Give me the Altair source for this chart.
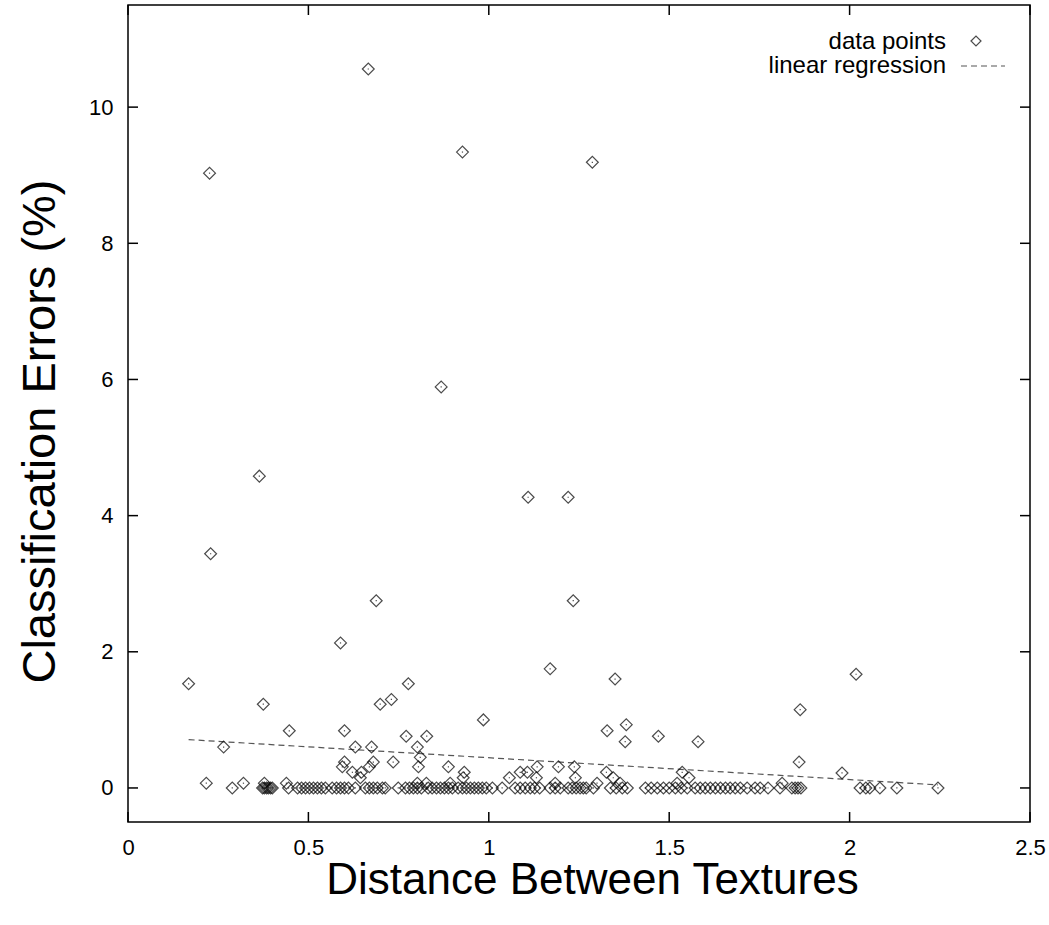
import altair as alt
import pandas as pd

# --- data points (distance, classification error %) ---
pts_x = [
    0.666, 0.226, 0.927, 0.868, 1.287, 0.364, 1.109, 1.220, 0.229, 0.688,
    1.234, 0.589, 1.170, 0.168, 0.777, 1.350, 2.018, 0.375, 0.699, 0.730,
    0.447, 0.600, 0.771, 0.828, 0.265, 0.630, 0.675, 0.802, 0.810, 0.600,
    0.594, 0.680, 0.669, 0.735, 0.805, 0.622, 0.647, 0.644, 0.217, 0.320,
    0.378, 0.439, 0.802, 0.985, 1.328, 1.381, 1.378, 1.470, 1.580, 0.888,
    0.932, 0.929, 0.893, 0.827, 1.057, 1.087, 1.107, 1.134, 1.132, 1.193,
    1.237, 1.240, 1.184, 1.326, 1.345, 1.364, 1.300, 1.536, 1.555, 1.522,
    1.863, 1.860, 1.979, 1.813,
]
pts_y = [
    10.56, 9.03, 9.34, 5.89, 9.19, 4.58, 4.27, 4.27, 3.44, 2.75,
    2.75, 2.13, 1.75, 1.53, 1.53, 1.60, 1.67, 1.23, 1.23, 1.30,
    0.84, 0.84, 0.76, 0.76, 0.60, 0.60, 0.60, 0.60, 0.45, 0.38,
    0.31, 0.38, 0.31, 0.38, 0.31, 0.23, 0.23, 0.15, 0.07, 0.07,
    0.07, 0.07, 0.07, 1.00, 0.84, 0.93, 0.68, 0.76, 0.68, 0.31,
    0.23, 0.15, 0.07, 0.07, 0.15, 0.23, 0.23, 0.31, 0.15, 0.31,
    0.31, 0.15, 0.07, 0.23, 0.15, 0.07, 0.07, 0.23, 0.15, 0.07,
    1.15, 0.38, 0.22, 0.07,
]
# points with zero classification error
zero_x = [
    0.289, 0.373, 0.378, 0.384, 0.389, 0.395, 0.400, 0.445,
    0.470, 0.481, 0.492, 0.503, 0.514, 0.525, 0.536, 0.547,
    0.566, 0.578, 0.589, 0.600, 0.611, 0.630,
    0.658, 0.669, 0.680, 0.691, 0.705, 0.713, 0.749,
    0.769, 0.780, 0.791, 0.802, 0.813,
    0.832, 0.843, 0.855, 0.866, 0.877, 0.888, 0.899,
    0.915, 0.927, 0.938, 0.949, 0.960, 0.971, 0.982, 0.993,
    1.010, 1.037, 1.073, 1.087, 1.101, 1.115, 1.127, 1.141,
    1.170, 1.184, 1.198, 1.220, 1.231, 1.242, 1.253, 1.262,
    1.270, 1.290, 1.337, 1.353, 1.370, 1.384,
    1.434, 1.450, 1.467, 1.484, 1.500, 1.517, 1.533, 1.550,
    1.572, 1.586, 1.600, 1.614, 1.628, 1.642, 1.656, 1.669, 1.683, 1.697, 1.716,
    1.738, 1.752, 1.774, 1.807, 1.840, 1.849, 1.857, 1.865,
    2.029, 2.045, 2.056, 2.084, 2.131, 2.245,
]
# linear regression end points
reg_x = [0.168, 2.245]
reg_y = [0.71, 0.045]

x_ticks = [0, 0.5, 1, 1.5, 2, 2.5]
y_ticks = [0, 2, 4, 6, 8, 10]
legend_labels = ["data points", "linear regression"]

FONT = "Liberation Sans"
W, H = 902, 817

df = pd.DataFrame({
    "x": pts_x + zero_x,
    "y": pts_y + [0.0] * len(zero_x),
})
reg = pd.DataFrame({"x": reg_x, "y": reg_y})
xt = pd.DataFrame({"x": x_ticks})
yt = pd.DataFrame({"y": y_ticks})

xscale = alt.Scale(domain=[0, 2.5], nice=False, zero=False)
yscale = alt.Scale(domain=[-0.5, 11.5], nice=False, zero=False)

xaxis = alt.Axis(values=x_ticks, format="~g", ticks=False, domain=False, grid=False,
                 labelFlush=False, labelPadding=15, labelFontSize=22, labelFont=FONT,
                 labelColor="black",
                 title="Distance Between Textures", titleFontSize=44, titleFont=FONT,
                 titleFontWeight="normal", titleColor="black",
                 titleBaseline="middle", titleX=464, titleY=58)
yaxis = alt.Axis(values=y_ticks, format="d", ticks=False, domain=False, grid=False,
                 labelFlush=False, labelPadding=15, labelFontSize=22, labelFont=FONT,
                 labelColor="black",
                 title="Classification Errors (%)", titleFontSize=47, titleFont=FONT,
                 titleFontWeight="normal", titleColor="black",
                 titleBaseline="middle", titleX=-88, titleY=426)

X = alt.X("x:Q", scale=xscale, axis=xaxis)
Y = alt.Y("y:Q", scale=yscale, axis=yaxis)

points = alt.Chart(df).mark_point(shape="diamond", size=140, filled=False,
                                  color="black", strokeWidth=1.2).encode(x=X, y=Y)
dots = alt.Chart(df).mark_point(shape="square", size=1.5, filled=True,
                                color="black", opacity=0.7).encode(x=X, y=Y)
line = alt.Chart(reg).mark_line(color="#555555", strokeWidth=1.2,
                                strokeDash=[6, 4]).encode(x=X, y=Y)

# inward ticks on all four sides
tick_style = dict(color="black", strokeWidth=1.5)
xt_bottom = alt.Chart(xt).mark_rule(**tick_style).encode(
    x=X, y=alt.value(H), y2=alt.value(H - 10))
xt_top = alt.Chart(xt).mark_rule(**tick_style).encode(
    x=X, y=alt.value(0), y2=alt.value(10))
yt_left = alt.Chart(yt).mark_rule(**tick_style).encode(
    y=Y, x=alt.value(0), x2=alt.value(10))
yt_right = alt.Chart(yt).mark_rule(**tick_style).encode(
    y=Y, x=alt.value(W), x2=alt.value(W - 10))

# key (top right)
text_style = dict(align="right", baseline="alphabetic", fontSize=24, font=FONT, color="black")
leg_t1 = alt.Chart(pd.DataFrame({"label": legend_labels[:1]})).mark_text(**text_style).encode(
    text="label:N", x=alt.value(818), y=alt.value(44))
leg_t2 = alt.Chart(pd.DataFrame({"label": legend_labels[1:]})).mark_text(**text_style).encode(
    text="label:N", x=alt.value(818), y=alt.value(68))
leg_sym = alt.Chart(pd.DataFrame({"label": legend_labels[:1]})).mark_point(
    shape="diamond", size=100, filled=False, color="black", strokeWidth=1.2
).encode(x=alt.value(848), y=alt.value(36), detail="label:N")
leg_line = alt.Chart(pd.DataFrame({"label": legend_labels[1:]})).mark_rule(
    color="#555555", strokeWidth=1.2, strokeDash=[6, 4]
).encode(x=alt.value(833), x2=alt.value(877), y=alt.value(61), detail="label:N")

chart = alt.layer(
    line, points, dots, xt_bottom, xt_top, yt_left, yt_right,
    leg_t1, leg_t2, leg_sym, leg_line
).properties(
    width=W, height=H,
    autosize=alt.AutoSizeParams(type="none"),
    padding={"left": 128, "top": 5, "right": 19, "bottom": 103},
    background="white",
).configure_view(stroke="black", strokeWidth=1.5).configure_axis(grid=False)

chart.save("out.html", embed_options={"renderer": "svg", "actions": False})
